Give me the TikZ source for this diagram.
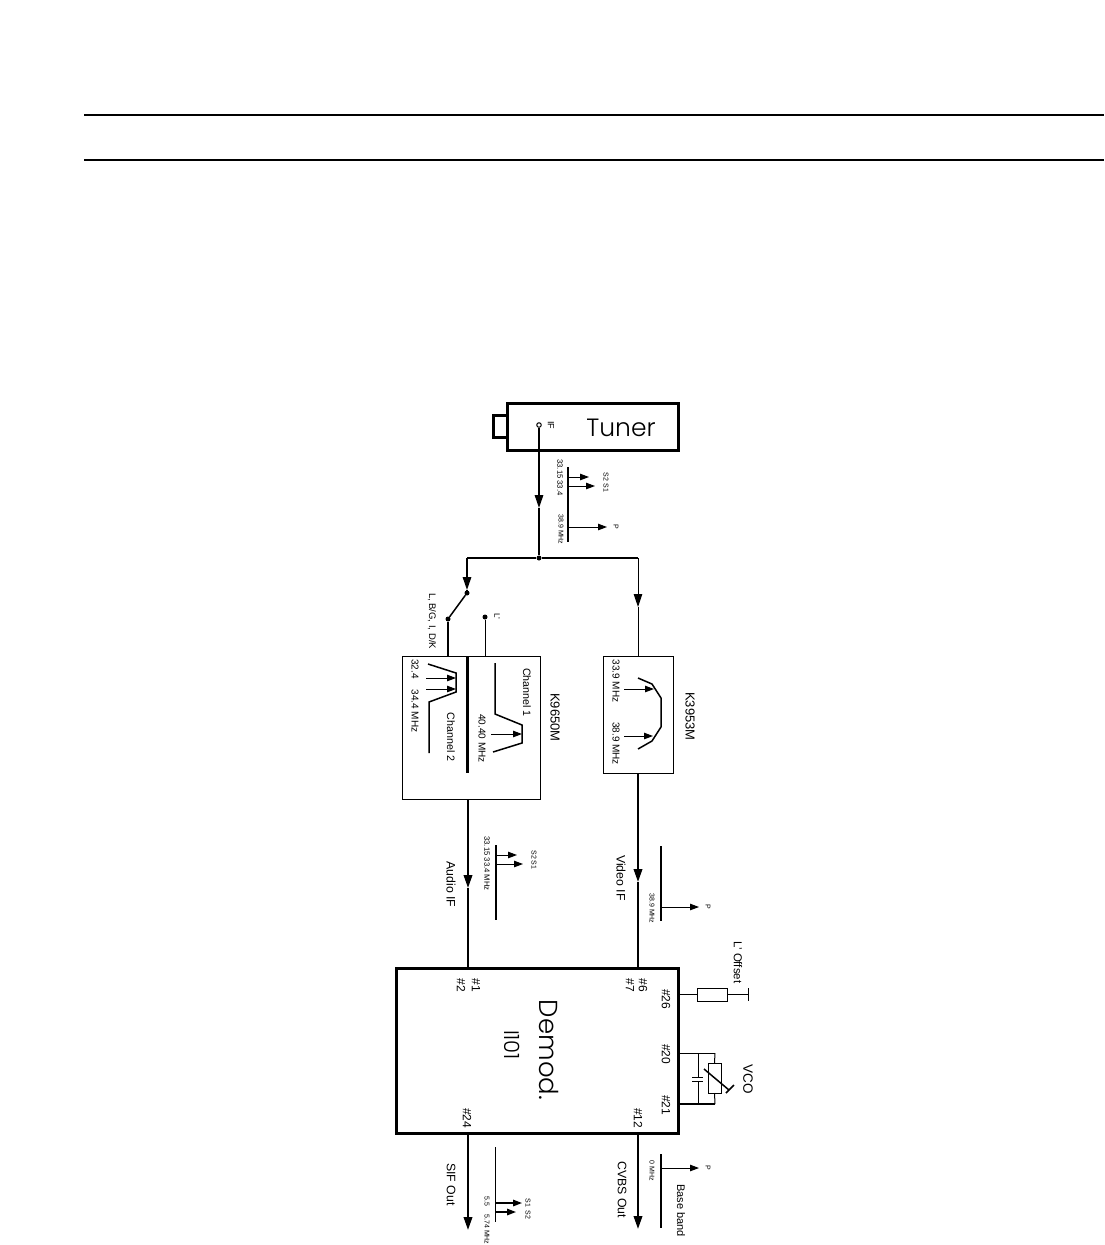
\documentclass[tikz,border=0pt]{standalone}
\usepackage{fontspec}
\setmainfont{Liberation Sans}
\newfontfamily\gfont{Poppins Light}
\usetikzlibrary{arrows.meta}
\tikzset{
  wire/.style={line width=1.5pt,line cap=butt},
  thin wire/.style={line width=1pt},
  heavy/.style={line width=2.1pt},
  tipped/.style={-{Triangle[length=13pt,width=8.5pt]}},
  smalltip/.style={-{Triangle[length=9pt,width=6.5pt]}},
  vt/.style={rotate=-90,inner sep=0pt,anchor=center,text=black},
  tiny/.style={vt,font=\fontsize{7}{8}\selectfont},
  smallt/.style={vt,font=\fontsize{10}{11}\selectfont},
  pin/.style={vt,font=\fontsize{12}{13}\selectfont},
  midt/.style={vt,font=\fontsize{12.3}{14}\selectfont},
  boxthin/.style={draw,line width=0.8pt,inner sep=0pt,outer sep=0pt,anchor=north west},
  boxheavy/.style={draw,line width=3pt,inner sep=0pt,outer sep=0pt,anchor=north west},
  dot/.style={circle,fill=black,inner sep=0pt,minimum size=5pt},
  term/.style={circle,draw,fill=white,line width=1pt,inner sep=0pt,minimum size=4.5pt},
}
\begin{document}
\begin{tikzpicture}[x=1pt,y=-1pt]
\useasboundingbox (0,0) rectangle (1104,1245);
% header rules
\coordinate (ruleAl) at (84,115); \coordinate (ruleAr) at (1104,115);
\coordinate (ruleBl) at (84,160); \coordinate (ruleBr) at (1104,160);
\draw[heavy] (ruleAl) -- (ruleAr);
\draw[heavy] (ruleBl) -- (ruleBr);
% Tuner
\node[boxheavy,minimum width=171pt,minimum height=47pt] (tuner) at (507,403) {};
\node[boxheavy,minimum width=14pt,minimum height=22pt] (stub) at (493,415) {};
\node[inner sep=0pt,font=\gfont\fontsize{25}{28}\selectfont] (tunertxt) at (621,428) {Tuner};
\node[term] (ifpin) at (539,425) {};
\node[vt,font=\fontsize{9}{10}\selectfont] (iflbl) at (551,425) {IF};
% tree
\node[dot,minimum size=5pt] (junc) at (539,558) {};
\coordinate (ifarrow) at (539,508);
\draw[wire,tipped] (ifpin) -- (ifarrow);
\draw[wire] (ifarrow) -- (junc);
\coordinate (jl) at (467,558); \coordinate (jr) at (638,558);
\draw[wire] (jl) -- (junc);
\draw[wire] (junc) -- (jr);
\node[dot] (sw1) at (467,593) {};
\node[dot] (sw2) at (448,619) {};
\node[dot] (sw3) at (485,617) {};
\coordinate (jlarrow) at (467,590); \coordinate (jrarrow) at (638,607);
\draw[wire,tipped] (jl) -- (jlarrow);
\draw[wire] (jlarrow) -- (sw1);
\draw[wire] (sw1) -- (sw2);
\node[vt,font=\fontsize{9.5}{11}\selectfont] (lbg) at (432,621) {L, B/G, I, D/K};
\node[vt,font=\fontsize{8}{9}\selectfont] (lp) at (497,616) {L'};
% spectrum under tuner
\coordinate (s1a) at (568,467); \coordinate (s1b) at (568,542);
\draw[wire] (s1a) -- (s1b);
\coordinate (s1c) at (568,477); \coordinate (s1d) at (589,477);
\coordinate (s1e) at (568,486); \coordinate (s1f) at (595,486);
\coordinate (s1g) at (568,527); \coordinate (s1h) at (607,527);
\draw[thin wire,smalltip] (s1c) -- (s1d);
\draw[thin wire,smalltip] (s1e) -- (s1f);
\draw[thin wire,smalltip] (s1g) -- (s1h);
\node[vt,font=\fontsize{7.7}{8}\selectfont] (t1) at (560,477.5) {33.15 33.4};
\node[tiny] (t2) at (561,529.5) {38.9 MHz};
\node[tiny] (t3) at (606,482.5) {S2 S1};
\node[tiny] (t4) at (616,527) {P};
% K9650M
\node[boxthin,minimum width=138pt,minimum height=143pt] (k96) at (402,656) {};
\coordinate (k96t1) at (448,656); \coordinate (k96t2) at (485,656);
\coordinate (k96in) at (467.5,656); \coordinate (k96e) at (467.5,773);
\draw[heavy] (sw2) -- (k96t1);
\draw[thin wire] (sw3) -- (k96t2);
\draw[heavy] (k96in) -- (k96e);
\coordinate (c1a) at (495,663); \coordinate (c1b) at (495,714); \coordinate (c1c) at (522,725);
\coordinate (c1d) at (522,743); \coordinate (c1e) at (493,752);
\draw[wire] (c1a) -- (c1b) -- (c1c) -- (c1d) -- (c1e);
\coordinate (c1f) at (491,734); \coordinate (c1g) at (522,734);
\draw[thin wire,smalltip] (c1f) -- (c1g);
\coordinate (c2a) at (428,664); \coordinate (c2b) at (456,673); \coordinate (c2c) at (456,692);
\coordinate (c2d) at (429,702); \coordinate (c2e) at (429,753);
\draw[wire] (c2a) -- (c2b) -- (c2c) -- (c2d) -- (c2e);
\coordinate (c2f) at (426,678); \coordinate (c2g) at (456,678);
\coordinate (c2h) at (426,689); \coordinate (c2i) at (456,689);
\draw[thin wire,smalltip] (c2f) -- (c2g);
\draw[thin wire,smalltip] (c2h) -- (c2i);
\node[vt,font=\fontsize{10.7}{12}\selectfont] (t5) at (527,692.5) {Channel 1};
\node[smallt] (t6) at (482,738.5) {40.40 MHz};
\node[vt,font=\fontsize{10.7}{12}\selectfont] (t7) at (451,737) {Channel 2};
\node[smallt] (t8) at (415,669) {32.4};
\node[smallt] (t9) at (415,711) {34.4 MHz};
\node[vt,font=\fontsize{13}{14}\selectfont] (t10) at (555,717.5) {K9650M};
% K3953M
\node[boxthin,minimum width=70pt,minimum height=117pt] (k39) at (603,656) {};
\coordinate (k39in) at (638,656); \coordinate (k39out) at (638,773);
\draw[thin wire,tipped] (jr) -- (jrarrow);
\draw[thin wire] (jrarrow) -- (k39in);
\coordinate (b1) at (638,678); \coordinate (b2) at (652,684); \coordinate (b3) at (661,698);
\coordinate (b4) at (661,727); \coordinate (b5) at (652,741); \coordinate (b6) at (638,749);
\draw[wire] (b1) -- (b2) -- (b3) -- (b4) -- (b5) -- (b6);
\coordinate (b7) at (624,689); \coordinate (b8) at (654,689);
\coordinate (b9) at (624,736); \coordinate (b10) at (653,736);
\draw[thin wire,smalltip] (b7) -- (b8);
\draw[thin wire,smalltip] (b9) -- (b10);
\node[smallt] (t11) at (616,681) {33.9 MHz};
\node[smallt] (t12) at (616,743.5) {38.9 MHz};
\node[vt,font=\fontsize{13}{14}\selectfont] (t13) at (690,716.5) {K3953M};
% Demod
\node[boxheavy,minimum width=282pt,minimum height=165pt] (demod) at (396,968) {};
\node[vt,font=\gfont\fontsize{26}{30}\selectfont] (t14) at (549,1050) {Demod.};
\node[vt,font=\gfont\fontsize{21}{24}\selectfont] (t15) at (512,1045) {I101};
\node[pin] (p1) at (476,985) {\#1};
\node[pin] (p2) at (461,985) {\#2};
\node[pin] (p6) at (643,985) {\#6};
\node[pin] (p7) at (630,985) {\#7};
\node[pin] (p26) at (666,999) {\#26};
\node[pin] (p20) at (666,1054) {\#20};
\node[pin] (p21) at (666,1105) {\#21};
\node[pin] (p12) at (638,1118) {\#12};
\node[pin] (p24) at (467,1118) {\#24};
% audio / video paths
\coordinate (aud0) at (468,799); \coordinate (audm) at (468,888); \coordinate (aud1) at (468,968);
\draw[heavy,tipped] (aud0) -- (audm); \draw[heavy] (audm) -- (aud1);
\coordinate (vidm) at (638,882); \coordinate (vid1) at (638,968);
\draw[heavy,tipped] (k39out) -- (vidm); \draw[heavy] (vidm) -- (vid1);
\node[midt] (t16) at (451,884.5) {Audio IF};
\node[midt] (t17) at (621,878) {Video IF};
% audio spectrum
\coordinate (s2a) at (496,845); \coordinate (s2b) at (496,920);
\draw[heavy] (s2a) -- (s2b);
\coordinate (s2c) at (496,855); \coordinate (s2d) at (517,855);
\coordinate (s2e) at (496,864); \coordinate (s2f) at (523,864);
\draw[thin wire,smalltip] (s2c) -- (s2d);
\draw[thin wire,smalltip] (s2e) -- (s2f);
\node[vt,font=\fontsize{7.7}{8}\selectfont] (t18) at (487,863.5) {33.15 33.4 MHz};
\node[tiny] (t19) at (534,860) {S2 S1};
% video spectrum
\coordinate (s3a) at (661,846); \coordinate (s3b) at (661,921);
\draw[heavy] (s3a) -- (s3b);
\coordinate (s3c) at (661,907); \coordinate (s3d) at (699,907);
\draw[thin wire,smalltip] (s3c) -- (s3d);
\node[tiny] (t20) at (652,908.5) {38.9 MHz};
\node[tiny] (t21) at (708,907) {P};
% L' offset
\node[draw,line width=1pt,inner sep=0pt,outer sep=0pt,minimum width=30pt,minimum height=13pt,anchor=north west] (res) at (697,988) {};
\coordinate (ro0) at (678,994.5); \coordinate (ro1) at (748,994.5);
\coordinate (ro2) at (748,988); \coordinate (ro3) at (748,1001);
\draw[thin wire] (ro0) -- (res.west);
\draw[thin wire] (res.east) -- (ro1);
\draw[thin wire] (ro2) -- (ro3);
\node[vt,font=\fontsize{11.5}{13}\selectfont] (t22) at (738,962.5) {L' Offset};
% VCO
\coordinate (v0) at (678,1053); \coordinate (v1) at (715,1053);
\coordinate (v2) at (678,1104); \coordinate (v3) at (715,1104);
\draw[thin wire] (v0) -- (v1);
\draw[wire] (v2) -- (v3);
\node[draw,line width=1pt,inner sep=0pt,outer sep=0pt,minimum width=13pt,minimum height=30pt,anchor=north west] (xtal) at (708,1063) {};
\draw[thin wire] (v1) -- (xtal.north);
\draw[thin wire] (xtal.south) -- (v3);
\coordinate (ca) at (698,1053); \coordinate (cb) at (698,1077);
\coordinate (cc) at (698,1081); \coordinate (cd) at (698,1104);
\coordinate (ce) at (692,1077); \coordinate (cf) at (703,1077);
\coordinate (cg) at (692,1081); \coordinate (ch) at (703,1081);
\draw[thin wire] (ca) -- (cb); \draw[thin wire] (cc) -- (cd);
\draw[thin wire] (ce) -- (cf); \draw[thin wire] (cg) -- (ch);
\coordinate (d1) at (704,1069); \coordinate (d2) at (729,1090);
\coordinate (d3) at (734,1085); \coordinate (d4) at (726,1093);
\draw[wire] (d1) -- (d2); \draw[wire] (d3) -- (d4);
\node[vt,font=\fontsize{13.5}{15}\selectfont] (t23) at (748,1079) {VCO};
% outputs
\coordinate (o1a) at (468,1133); \coordinate (o1b) at (468,1230);
\coordinate (o2a) at (638,1133); \coordinate (o2b) at (638,1229);
\draw[heavy,tipped] (o1a) -- (o1b);
\draw[heavy,tipped] (o2a) -- (o2b);
\node[midt] (t24) at (451,1184.5) {SIF Out};
\node[midt] (t25) at (622,1189.5) {CVBS Out};
% SIF spectrum
\coordinate (s4a) at (495,1147); \coordinate (s4b) at (495,1222);
\draw[thin wire] (s4a) -- (s4b);
\coordinate (s4c) at (495,1203); \coordinate (s4d) at (522,1203);
\coordinate (s4e) at (495,1212); \coordinate (s4f) at (516,1212);
\draw[wire,smalltip] (s4c) -- (s4d);
\draw[wire,smalltip] (s4e) -- (s4f);
\node[tiny] (t26) at (487,1201.5) {5.5};
\node[tiny] (t27) at (487,1229.5) {5.74 MHz};
\node[tiny] (t28) at (528,1209) {S1 \,S2};
% base band spectrum
\coordinate (s5a) at (661,1154); \coordinate (s5b) at (661,1228);
\draw[heavy] (s5a) -- (s5b);
\coordinate (s5c) at (661,1168); \coordinate (s5d) at (699,1168);
\draw[thin wire,smalltip] (s5c) -- (s5d);
\node[tiny] (t29) at (652,1171) {0 MHz};
\node[tiny] (t30) at (708,1168) {P};
\node[vt,font=\fontsize{11}{12}\selectfont] (t31) at (681,1210.5) {Base band};
\end{tikzpicture}
\end{document}
